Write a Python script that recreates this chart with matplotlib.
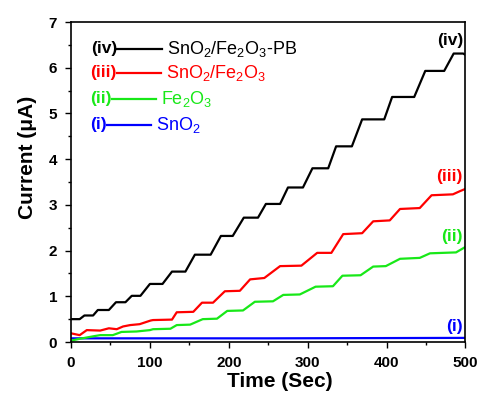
import numpy as np
import matplotlib
matplotlib.use("Agg")
from matplotlib import pyplot as plt
from matplotlib.lines import Line2D

plt.rcParams['font.family'] = ['Liberation Sans', 'DejaVu Sans']
plt.rcParams['mathtext.default'] = 'regular'

# corner points of the step traces (time in s, current in uA)
t_pb = [0, 11, 17, 28, 34, 48, 57, 69, 77, 88, 100, 116, 128, 145, 157, 177, 190, 205,
        219, 237, 247, 265, 275, 294, 306, 326, 336, 356, 369, 397, 407, 435, 449, 473,
        485, 497, 500]
i_pb = [0.50, 0.50, 0.58, 0.58, 0.70, 0.70, 0.87, 0.87, 1.01, 1.01, 1.27, 1.27, 1.54, 1.54,
        1.91, 1.91, 2.32, 2.32, 2.72, 2.72, 3.02, 3.02, 3.38, 3.38, 3.80, 3.80, 4.28, 4.28,
        4.87, 4.87, 5.36, 5.36, 5.93, 5.93, 6.31, 6.31, 6.28]

t_snfe = [0, 11, 20, 37, 48, 58, 66, 75, 87, 101, 104, 128, 134, 155, 166, 180, 195, 214,
          227, 245, 265, 292, 312, 330, 345, 369, 383, 404, 417, 442, 457, 484, 493, 500]
i_snfe = [0.19, 0.15, 0.26, 0.25, 0.30, 0.28, 0.34, 0.37, 0.39, 0.47, 0.48, 0.49, 0.65, 0.66,
          0.86, 0.86, 1.11, 1.12, 1.37, 1.40, 1.66, 1.67, 1.95, 1.95, 2.36, 2.38, 2.64, 2.66,
          2.91, 2.93, 3.21, 3.23, 3.30, 3.35]

t_fe = [0, 11, 30, 37, 53, 64, 83, 100, 104, 126, 134, 151, 167, 185, 198, 218, 233, 256,
        269, 290, 310, 332, 344, 367, 383, 399, 417, 442, 455, 488, 500]
i_fe = [0.03, 0.07, 0.13, 0.15, 0.15, 0.22, 0.23, 0.26, 0.28, 0.29, 0.37, 0.38, 0.50, 0.51,
        0.68, 0.69, 0.88, 0.89, 1.03, 1.04, 1.21, 1.22, 1.45, 1.46, 1.65, 1.66, 1.82, 1.84,
        1.94, 1.96, 2.08]

t_sn = [0, 250, 500]
i_sn = [0.08, 0.08, 0.09]

tags = ['(iv)', '(iii)', '(ii)', '(i)']
names = [r'SnO$_2$/Fe$_2$O$_3$-PB', r'SnO$_2$/Fe$_2$O$_3$', r'Fe$_2$O$_3$', r'SnO$_2$']
colors = ['black', '#ff0000', '#18e818', '#0000ff']

W, H = 481, 395
fig = plt.figure(figsize=(W / 100, H / 100), dpi=100)
ax = fig.add_axes([71 / W, 1 - 342 / H, 394.5 / W, 320 / H])

ax.plot(t_sn, i_sn, color=colors[3], lw=1.6)
ax.plot(t_fe, i_fe, color=colors[2], lw=1.6)
ax.plot(t_snfe, i_snfe, color=colors[1], lw=1.6)
ax.plot(t_pb, i_pb, color=colors[0], lw=1.6)

ax.set_xlim(0, 500)
ax.set_ylim(0, 7)
ax.set_xticks(np.arange(0, 501, 100))
ax.set_xticks(np.arange(0, 501, 50), minor=True)
ax.set_yticks(np.arange(0, 8, 1))
ax.set_yticks(np.arange(0, 7.01, 0.5), minor=True)
ax.tick_params(which='major', direction='out', length=4, width=1, pad=6, labelsize=11)
ax.tick_params(which='minor', direction='out', length=2.5, width=1)
for lab in ax.get_xticklabels() + ax.get_yticklabels():
    lab.set_fontweight('bold')
for sp in ax.spines.values():
    sp.set_linewidth(1.2)

ax.set_xlabel('Time (Sec)', fontsize=15, fontweight='bold', va='center')
ax.xaxis.set_label_coords(0.530, -0.124)
ax.set_ylabel('Current (μA)', fontsize=15, fontweight='bold', va='center')
ax.yaxis.set_label_coords(-0.110, 0.578)

# hand-made legend at the top left (pixel positions)
leg_y = [49, 73, 99, 125]
line_x = [(117, 162), (117, 161), (112, 156), (107, 151)]
for k in range(4):
    y = 1 - leg_y[k] / H
    fig.text(line_x[k][0] / W, y, tags[k], color=colors[k], fontsize=12.5,
             fontweight='bold', ha='right', va='center')
    fig.add_artist(Line2D([line_x[k][0] / W, line_x[k][1] / W], [y, y],
                          color=colors[k], lw=1.6))
    fig.text((line_x[k][1] + 5) / W, y, names[k], color=colors[k], fontsize=13,
             ha='left', va='center')

# tags at the right end of each trace
tag_y = [41, 177, 237, 327]
for k in range(4):
    fig.text(463 / W, 1 - tag_y[k] / H, tags[k], color=colors[k], fontsize=12.5,
             fontweight='bold', ha='right', va='center')

fig.savefig('out.png', dpi=100)
